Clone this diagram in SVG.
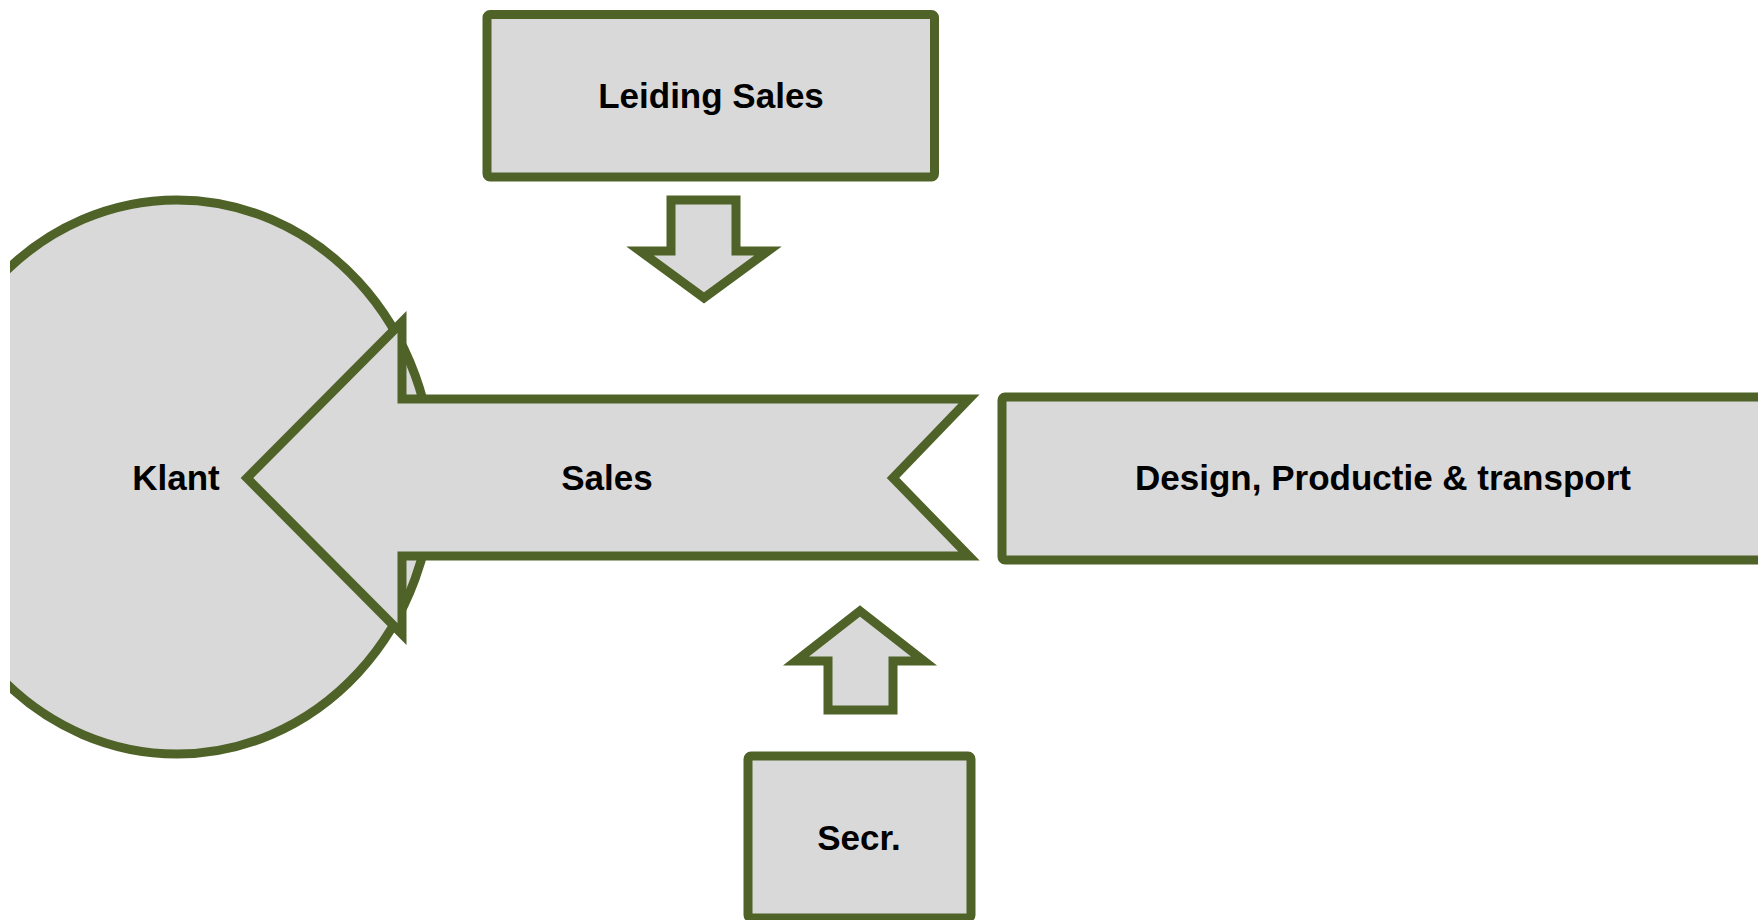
<svg xmlns="http://www.w3.org/2000/svg" width="1758" height="920" viewBox="0 0 1758 920">
<style>
.shape{fill:#D9D9D9;stroke:#4F6228;stroke-width:9;stroke-linejoin:miter;stroke-miterlimit:10}
.box{fill:#D9D9D9;stroke:#4F6228;stroke-width:9}
.lbl{font-family:"Liberation Sans",Arial,sans-serif;font-weight:bold;font-size:35px;fill:#000;text-anchor:middle}
</style>
<defs>
<clipPath id="leftClip"><rect x="10" y="0" width="1748" height="920"/></clipPath>
</defs>
<rect width="1758" height="920" fill="#FFFFFF"/>
<g id="klant" clip-path="url(#leftClip)">
<ellipse class="shape" cx="177" cy="477" rx="256" ry="277"/>
<text class="lbl" x="176" y="490">Klant</text>
</g>
<g id="sales">
<polygon class="shape" points="247,478 402,322 402,399 969,399 893,478 969,556 402,556 402,634"/>
<text class="lbl" x="607" y="490">Sales</text>
</g>
<g id="leiding-sales">
<rect class="box" x="487" y="14.5" width="447.5" height="162.5" rx="3"/>
<text class="lbl" x="711" y="108">Leiding Sales</text>
</g>
<g id="design">
<rect class="box" x="1002" y="397" width="762" height="163" rx="3"/>
<text class="lbl" x="1383" y="490">Design, Productie &amp; transport</text>
</g>
<g id="secr">
<rect class="box" x="748" y="756" width="223" height="162" rx="3"/>
<text class="lbl" x="859" y="850">Secr.</text>
</g>
<g id="connectors">
<polygon class="shape" points="671,200 736,200 736,251 768,251 704,298 640,251 671,251"/>
<polygon class="shape" points="860,611 924,661 893,661 893,710 828,710 828,661 796,661"/>
</g>
</svg>
